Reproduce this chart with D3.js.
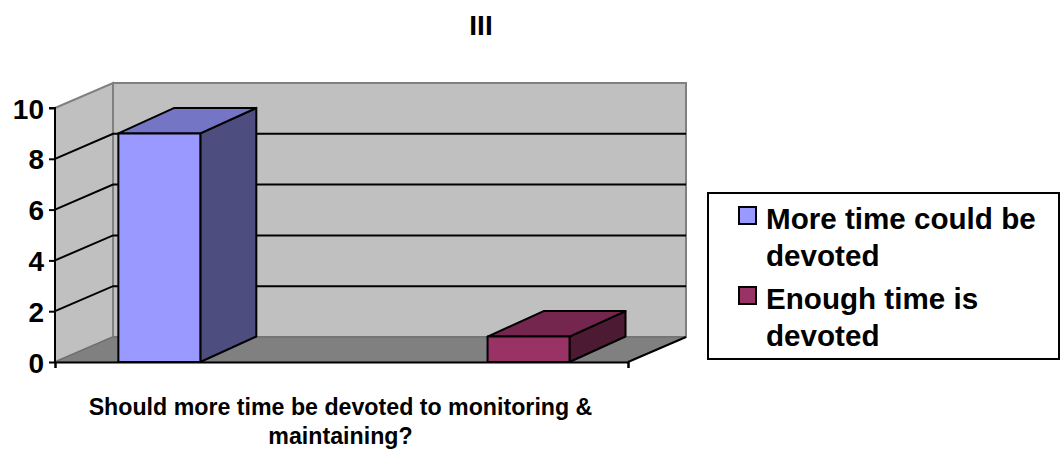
<!DOCTYPE html>
<html>
<head>
<meta charset="utf-8">
<script src="https://cdn.jsdelivr.net/npm/d3@7"></script>
<style>
  html, body { margin: 0; padding: 0; background: #ffffff; }
  svg { display: block; font-family: "Liberation Sans", Arial, Helvetica, sans-serif; font-weight: bold; }
</style>
</head>
<body>
<svg id="chart" width="1062" height="455"></svg>
<script>
// Chart data
const chartTitle = "III";
const category = "Should more time be devoted to monitoring & maintaining?";
const categoryLines = ["Should more time be devoted to monitoring &", "maintaining?"];
const seriesNames = ["More time could be devoted", "Enough time is devoted"];
const seriesValues = [9, 1];
const legendLines = [["More time could be", "devoted"], ["Enough time is", "devoted"]];
const yTicks = [0, 2, 4, 6, 8, 10];

// Face colours per series: front, top, side
const faceColors = [
  { front: "#9999ff", top: "#7575c6", side: "#4d4d80" },
  { front: "#993366", top: "#74264e", side: "#4d1a33" }
];

const svg = d3.select("#chart");

// Plot geometry (front plane) and oblique depth offset
const plot = { left: 55, right: 628, top: 108, bottom: 362 };
const depth = { dx: 58, dy: -25 };
const barDepth = { dx: 56, dy: -25.5 };

const y = d3.scaleLinear().domain([0, 10]).range([plot.bottom, plot.top]);
const x = d3.scaleBand()
  .domain(seriesNames)
  .range([plot.left, plot.right])
  .paddingInner(0.778)
  .paddingOuter(0.165)
  .align(0.52);

const line = d3.line();

// Walls and floor
const g = svg.append("g");
const L = plot.left, R = plot.right, T = y(10), B = y(0);

// back wall
g.append("path")
  .attr("d", line([[L + depth.dx, T + depth.dy], [R + depth.dx, T + depth.dy], [R + depth.dx, B + depth.dy], [L + depth.dx, B + depth.dy]]) + "Z")
  .attr("fill", "#c0c0c0").attr("stroke", "#808080").attr("stroke-width", 2);
// side wall
g.append("path")
  .attr("d", line([[L, T], [L + depth.dx, T + depth.dy], [L + depth.dx, B + depth.dy], [L, B]]) + "Z")
  .attr("fill", "#c0c0c0").attr("stroke", "#808080").attr("stroke-width", 2);
// floor
g.append("path")
  .attr("d", line([[L, B], [R, B], [R + depth.dx, B + depth.dy], [L + depth.dx, B + depth.dy]]) + "Z")
  .attr("fill", "#808080").attr("stroke", "#6a6a6a").attr("stroke-width", 1);
// floor front-right edge
g.append("path")
  .attr("d", line([[R, B], [R + depth.dx, B + depth.dy]]))
  .attr("fill", "none").attr("stroke", "#000").attr("stroke-width", 2);

// Gridlines across side wall and back wall
const inner = yTicks.filter(v => v > 0 && v < 10);
g.selectAll(".grid").data(inner).join("path")
  .attr("class", "grid")
  .attr("d", v => line([[L, y(v)], [L + depth.dx, y(v) + depth.dy], [R + depth.dx, y(v) + depth.dy]]))
  .attr("fill", "none").attr("stroke", "#000").attr("stroke-width", 2);

// Bars as oblique boxes
const bars = svg.append("g");
seriesNames.forEach((name, i) => {
  const x0 = x(name), x1 = x0 + x.bandwidth();
  const yTop = y(seriesValues[i]), yBot = y(0);
  const c = faceColors[i];
  const bg = bars.append("g").attr("stroke", "#000").attr("stroke-width", 2).attr("stroke-linejoin", "round");
  // side
  bg.append("path")
    .attr("d", line([[x1, yTop], [x1 + barDepth.dx, yTop + barDepth.dy], [x1 + barDepth.dx, yBot + barDepth.dy], [x1, yBot]]) + "Z")
    .attr("fill", c.side);
  // top
  bg.append("path")
    .attr("d", line([[x0, yTop], [x0 + barDepth.dx, yTop + barDepth.dy], [x1 + barDepth.dx, yTop + barDepth.dy], [x1, yTop]]) + "Z")
    .attr("fill", c.top);
  // front
  bg.append("rect")
    .attr("x", x0).attr("y", yTop).attr("width", x1 - x0).attr("height", yBot - yTop)
    .attr("fill", c.front);
});

// Y axis
const yAxis = d3.axisLeft(y).tickValues(yTicks).tickSize(6).tickPadding(5).tickFormat(d3.format("d"));
const ya = svg.append("g").attr("transform", `translate(${L},0)`).call(yAxis);
ya.select(".domain").attr("stroke", "#000").attr("stroke-width", 2).attr("d", `M-6,${T}H0V${B}`);
ya.selectAll(".tick line").attr("stroke", "#000").attr("stroke-width", 2);
ya.selectAll(".tick text").attr("fill", "#000").style("font-size", "28px").style("font-weight", "bold")
  .attr("font-family", null).attr("dy", "0.36em");
ya.attr("font-family", null).attr("font-size", null);

// X axis
const xEdge = d3.scaleLinear().domain([0, 1]).range([L, R]);
const xAxis = d3.axisBottom(xEdge).tickValues([0, 1]).tickSize(6).tickFormat("");
const xa = svg.append("g").attr("transform", `translate(0,${B})`).call(xAxis);
xa.select(".domain").attr("stroke", "#000").attr("stroke-width", 2);
xa.selectAll(".tick line").attr("stroke", "#000").attr("stroke-width", 2);

// Category label
const catX = (L + R) / 2 - 1;
const catText = svg.append("text")
  .attr("x", catX).attr("y", 415)
  .attr("text-anchor", "middle").style("font-size", "23.2px").attr("fill", "#000");
categoryLines.forEach((t, i) => {
  catText.append("tspan").attr("x", catX).attr("y", 415 + i * 29).text(t);
});

// Title
svg.append("text").attr("x", 481).attr("y", 35).attr("text-anchor", "middle")
  .style("font-size", "28px").attr("fill", "#000").text(chartTitle);

// Legend
const lg = svg.append("g");
lg.append("rect").attr("x", 708).attr("y", 193).attr("width", 351).attr("height", 166)
  .attr("fill", "#fff").attr("stroke", "#000").attr("stroke-width", 2);
const entryTop = [207, 287];
legendLines.forEach((lines, i) => {
  lg.append("rect").attr("x", 739).attr("y", entryTop[i]).attr("width", 17).attr("height", 17)
    .attr("fill", faceColors[i].front).attr("stroke", "#000").attr("stroke-width", 2);
  const t = lg.append("text").style("font-size", "29.6px").attr("fill", "#000");
  lines.forEach((s, j) => {
    t.append("tspan").attr("x", 766).attr("y", entryTop[i] + 21.5 + j * 37.5).text(s);
  });
});
</script>
</body>
</html>
